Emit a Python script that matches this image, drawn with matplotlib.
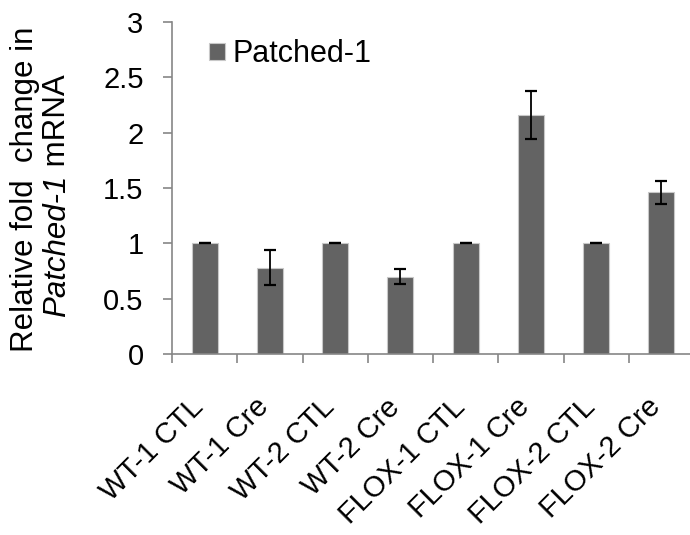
import matplotlib
matplotlib.use('Agg')
import matplotlib.pyplot as plt
import numpy as np

plt.rcParams['font.family'] = ['Liberation Sans', 'DejaVu Sans']

# qPCR results: Patched-1 expression relative to control
samples = ['WT-1 CTL', 'WT-1 Cre', 'WT-2 CTL', 'WT-2 Cre',
           'FLOX-1 CTL', 'FLOX-1 Cre', 'FLOX-2 CTL', 'FLOX-2 Cre']
fold_change = [1.0, 0.78, 1.0, 0.70, 1.0, 2.16, 1.0, 1.46]
fold_err = [0.0, 0.16, 0.0, 0.07, 0.0, 0.22, 0.0, 0.105]
y_ticks = [0, 0.5, 1, 1.5, 2, 2.5, 3]
y_ticklabels = ['0', '0.5', '1', '1.5', '2', '2.5', '3']

axis_grey = '#868686'

fig = plt.figure(figsize=(6.9, 5.35), dpi=100)
ax = fig.add_axes([0.2493, 0.3383, 0.7565, 0.6206])

x = np.arange(len(samples))
ax.bar(x, fold_change, width=0.4, color='#636363', edgecolor='#c8c8c8',
       linewidth=0.8, label='Patched-1', zorder=2)
ax.errorbar(x, fold_change, yerr=fold_err, fmt='none', ecolor='black',
            elinewidth=1.3, capsize=4.5, capthick=1.6, zorder=3)

ax.set_xlim(-0.5, len(samples) - 0.5)
ax.set_ylim(0, 3)
ax.set_yticks(y_ticks)
ax.set_yticklabels(y_ticklabels, fontsize=21)

# category labels (nudged right of bar centre), tick marks between categories
ax.set_xticks(x + 0.07)
ax.set_xticklabels(samples, fontsize=21, rotation=45, ha='right')
ax.set_xticks(np.arange(len(samples) + 1) - 0.5, minor=True)
ax.tick_params(axis='x', which='major', length=0, pad=28)
ax.tick_params(axis='x', which='minor', length=6.5, width=1.2, color=axis_grey)
ax.tick_params(axis='y', length=6.5, width=1.2, color=axis_grey, pad=14)

for side in ['top', 'right']:
    ax.spines[side].set_visible(False)
for side in ['left', 'bottom']:
    ax.spines[side].set_color(axis_grey)
    ax.spines[side].set_linewidth(1.2)

# two-line y label, gene name in italics
fig.text(0.0362, 0.6467, 'Relative fold  change in', rotation=90,
         ha='center', va='center', fontsize=22.5)
gene = fig.text(0.0826, 0.4075, 'Patched-1', rotation=90, style='italic',
                ha='center', va='bottom', fontsize=22.5)
ax.annotate(' mRNA', xy=(0.5, 1), xycoords=gene, rotation=90,
            ha='center', va='bottom', fontsize=22.5, annotation_clip=False)

ax.legend(loc='upper left', bbox_to_anchor=(0.048, 0.985), frameon=False,
          fontsize=22, handlelength=0.5, handleheight=0.5, handletextpad=0.25,
          borderaxespad=0)

fig.savefig('out.png', dpi=100)
